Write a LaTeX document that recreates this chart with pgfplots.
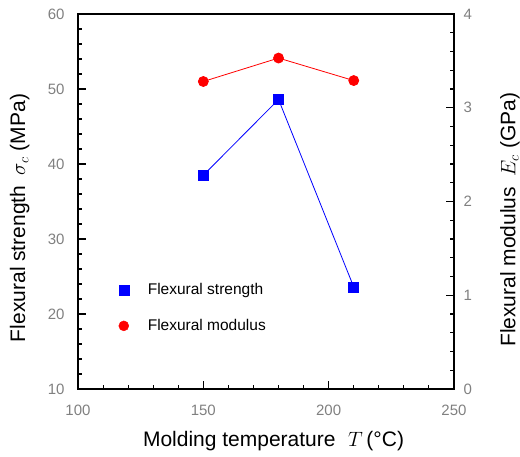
\documentclass[border=0pt]{standalone}
\usepackage{fontspec}
\setmainfont{Liberation Sans}
\usepackage{pgfplots}
\pgfplotsset{compat=1.18}
\definecolor{tickgray}{RGB}{128,128,128}
\begin{document}
\begin{tikzpicture}
\pgfplotsset{
  common/.style={
    width=376pt, height=375pt, scale only axis,
    xmin=100, xmax=250,
    axis line style={line width=1.5pt},
    tick style={line width=1.1pt, black},
    major tick length=8pt, minor tick length=4pt,
    minor tick num=4,
    tick align=inside,
    tick label style={font=\fontsize{15}{18}\selectfont, text=tickgray},
    /pgf/number format/assume math mode=true,
    label style={font=\fontsize{21}{25}\selectfont},
  }
}
\begin{axis}[common,
  ymin=10, ymax=60, ytick={10,20,...,60},
  xtick={100,150,200,250},
  xtick pos=bottom, ytick pos=left,
  yticklabel style={xshift=-10pt},
  xticklabel style={yshift=-12pt},
  xlabel={Molding temperature\hspace{0.6em}$T$\,(°C)},
  ylabel={Flexural strength\hspace{0.5em}$\sigma_c$ (MPa)},
  xlabel style={at={(axis description cs:0.52,-0.138)}, anchor=center},
  ylabel style={at={(axis description cs:-0.155,0.456)}, anchor=center},
]
\coordinate (bl) at (rel axis cs:0,0);
\coordinate (tr) at (rel axis cs:1,1);
\addplot[blue, line width=0.8pt, mark=square*, mark size=5pt, mark options={solid}] coordinates {(150,38.5) (180,48.6) (210,23.6)};
\end{axis}
\begin{axis}[common,
  ymin=0, ymax=4, ytick={0,1,...,4},
  hide x axis,
  ytick pos=right,
  yticklabel style={xshift=6pt},
  ylabel={Flexural modulus\hspace{0.5em}$E_c$ (GPa)},
  ylabel style={at={(axis description cs:1.149,0.451)}, anchor=center},
  legend cell align=left,
  legend style={at={(axis description cs:0.10,0.216)}, anchor=west, draw=none, fill=none,
    font=\fontsize{15.5}{18}\selectfont, row sep=19pt},
]
\addlegendimage{only marks, blue, mark=square*, mark size=5pt}
\addlegendentry{\hspace{17pt}Flexural strength}
\addplot[red, line width=0.8pt, mark=*, mark size=5pt, forget plot] coordinates {(150,3.28) (180,3.53) (210,3.29)};
\addlegendimage{only marks, red, mark=*, mark size=5pt}
\addlegendentry{\hspace{17pt}Flexural modulus}
\end{axis}
\pgfresetboundingbox
\path ([shift={(-78pt,-68pt)}]bl) rectangle ([shift={(66pt,14pt)}]tr);
\end{tikzpicture}
\end{document}
